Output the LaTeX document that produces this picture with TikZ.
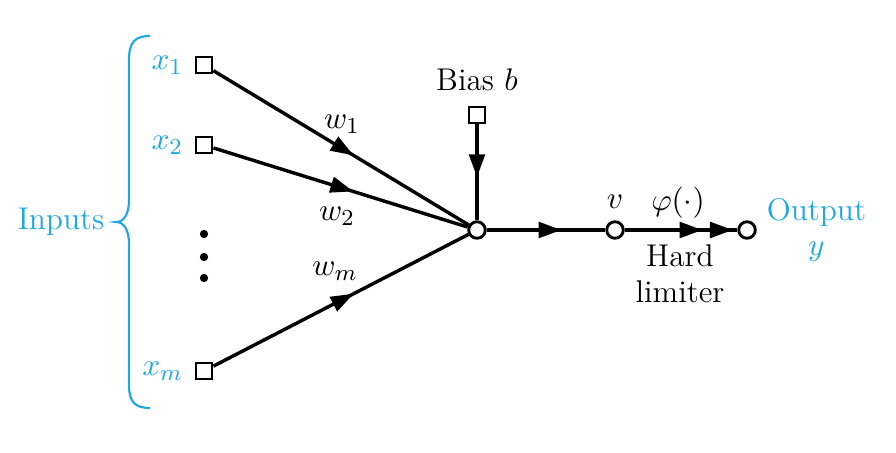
\documentclass[tikz,border=0pt]{standalone}
\usepackage{tikz}
\usetikzlibrary{positioning,arrows.meta,decorations.markings}
\definecolor{inblue}{RGB}{30,168,226}
\tikzstyle{inputbox} = [rectangle, draw=black, line width=1pt, minimum size=5.6pt, inner sep=0pt, fill=white]
\tikzstyle{sumnode} = [circle, draw=black, line width=1pt, minimum size=5.8pt, inner sep=0pt, fill=white]
\tikzstyle{dotnode} = [circle, fill=black, minimum size=2.9pt, inner sep=0pt]
\tikzstyle{wire} = [line width=1.2pt, black]
\tikzstyle{bluetext} = [text=inblue]
\tikzset{
  >={Triangle[length=8pt,width=5.5pt]},
  arrowat/.style={decoration={markings, mark=at position #1 with {\arrow{>}}}, postaction={decorate}},
  twoarrows/.style={decoration={markings, mark=at position 0.69 with {\arrow{>}}, mark=at position 0.96 with {\arrow{>}}}, postaction={decorate}}
}

\begin{document}
\begin{tikzpicture}[x=0.35pt, y=-0.35pt, font=\fontsize{11}{12.5}\selectfont]
    \useasboundingbox (0,0) rectangle (896,452);

    % inputs
    \node(in1)[inputbox] at (204,65) {};
    \node(in2)[inputbox] at (204,145) {};
    \node(inm)[inputbox] at (204,371) {};
    \foreach \y [count=\i] in {234,257,278}
        \node(dot\i)[dotnode] at (204,\y) {};

    \node(x1)[bluetext, left=0.5pt of in1]{$x_1$};
    \node(x2)[bluetext, left=0.5pt of in2]{$x_2$};
    \node(xm)[bluetext, left=0.5pt of inm]{$x_m$};

    \draw[inblue, line width=0.75pt] (150,36) .. controls (135,36) and (129,42) .. (129,60) -- (129,200)
        .. controls (129,214) and (124,222) .. (116,222) .. controls (124,222) and (129,230) .. (129,244)
        -- (129,385) .. controls (129,402) and (135,408) .. (150,408);
    \node(inputs)[bluetext] at (61,222){Inputs};

    % neuron
    \node(sum)[sumnode] at (477,230) {};
    \node(bias)[inputbox] at (477,115) {};
    \node(biaslabel)[above=1.5pt of bias]{Bias $b$};
    \node(vnode)[sumnode] at (615,230) {};
    \node(output)[sumnode] at (747,230) {};

    \node(w1) at (342,124){$w_1$};
    \node(w2) at (337,216){$w_2$};
    \node(wm) at (335,271){$w_m$};
    \node(vlabel)[above=0.5pt of vnode]{$v$};
    \node(phi) at (678,203){$\varphi(\cdot)$};
    \node(hard)[align=center] at (680,274){Hard\\limiter};
    \node(outlabel)[bluetext, align=center, right=0pt of output]{Output\\$y$};

    \draw[wire, arrowat=0.55] (in1) -- (sum);
    \draw[wire, arrowat=0.55] (in2) -- (sum);
    \draw[wire, arrowat=0.55] (inm) -- (sum);
    \draw[wire, arrowat=0.55] (bias) -- (sum);
    \draw[wire, arrowat=0.63] (sum) -- (vnode);
    \draw[wire, twoarrows] (vnode) -- (output);

\end{tikzpicture}
\end{document}
